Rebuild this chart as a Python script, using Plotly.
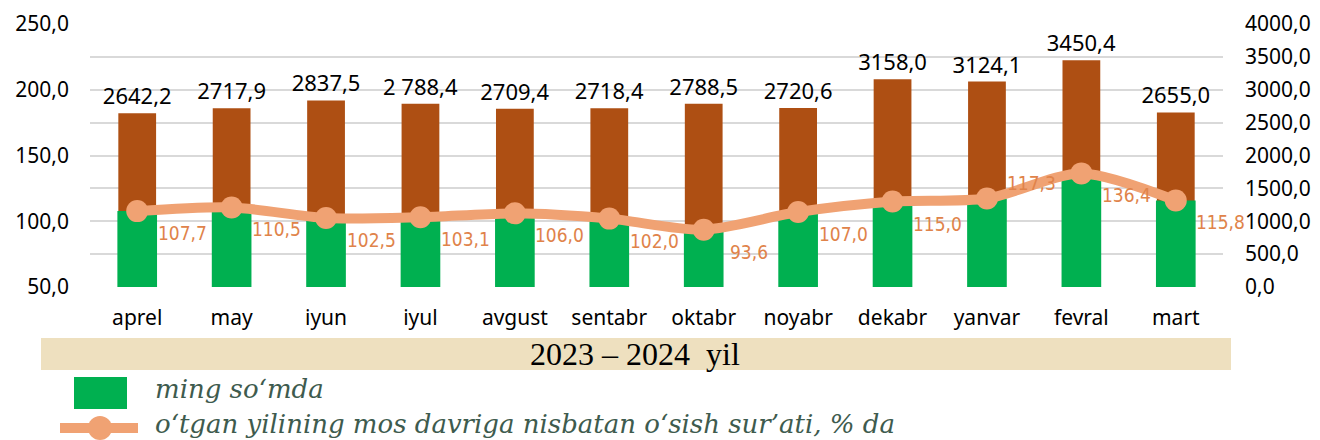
import plotly.graph_objects as go

# ---------------- data ----------------
months = ["aprel", "may", "iyun", "iyul", "avgust", "sentabr", "oktabr",
          "noyabr", "dekabr", "yanvar", "fevral", "mart"]
amount = [2642.2, 2717.9, 2837.5, 2788.4, 2709.4, 2718.4, 2788.5,
          2720.6, 3158.0, 3124.1, 3450.4, 2655.0]
amount_labels = ["2642,2", "2717,9", "2837,5", "2 788,4", "2709,4", "2718,4",
                 "2788,5", "2720,6", "3158,0", "3124,1", "3450,4", "2655,0"]
growth = [107.7, 110.5, 102.5, 103.1, 106.0, 102.0, 93.6,
          107.0, 115.0, 117.3, 136.4, 115.8]
growth_labels = ["107,7", "110,5", "102,5", "103,1", "106,0", "102,0", "93,6",
                 "107,0", "115,0", "117,3", "136,4", "115,8"]
label_side = ["below"] * 9 + ["above"] + ["below"] * 2

left_ticks = [50, 100, 150, 200, 250]
right_ticks = [0, 500, 1000, 1500, 2000, 2500, 3000, 3500, 4000]

period_text = "2023 – 2024  yil"
legend_bar = "ming so‘mda"
legend_line = "o‘tgan yilining mos davriga nisbatan o‘sish sur’ati, % da"

# ---------------- style ----------------
OFF = 8                      # default page body margin
W, H = 1320 - OFF, 440 - OFF
# plot area in page pixels: x 90..1223, y 24..287
PL, PR, PT, PB = 90, 1223, 24, 287
PW, PH = PR - PL, PB - PT
ML, MT = PL - OFF, PT - OFF
MR, MB = W - ML - PW, H - MT - PH

BROWN = "#AE4F13"
GREEN = "#00B050"
ORANGE = "#F0A273"
ORANGE_TXT = "#E0834A"
LEG_TXT = "#3E5B4E"
BAND = "#EEE0BF"
FONT = "Noto Sans"


def px(x):
    return (x - PL) / PW


def py(y):
    return (PB - y) / PH


fig = go.Figure()

# brown columns (right axis, drawn underneath)
fig.add_trace(go.Bar(
    x=months, y=amount, yaxis="y", width=0.40,
    marker=dict(color=BROWN, line=dict(width=0)),
    text=amount_labels, textposition="outside", cliponaxis=False,
    constraintext="none",
    textfont=dict(family=FONT, size=22, color="#000000"),
    hoverinfo="skip", showlegend=False,
))

# green columns (left axis)
fig.add_trace(go.Bar(
    x=months, y=growth, yaxis="y2", width=0.42,
    marker=dict(color=GREEN, line=dict(width=0)),
    hoverinfo="skip", showlegend=False,
))

# growth line
fig.add_trace(go.Scatter(
    x=months, y=growth, yaxis="y2", mode="lines+markers",
    line=dict(color=ORANGE, width=10, shape="spline", smoothing=0.8),
    marker=dict(color=ORANGE, size=22),
    hoverinfo="skip", showlegend=False, cliponaxis=False,
))

annotations = []
for m, v, t, s in zip(months, growth, growth_labels, label_side):
    annotations.append(dict(
        x=m, y=v, xref="x", yref="y2", text=t, showarrow=False,
        xshift=45, yshift=(16 if s == "above" else -22),
        font=dict(family="DejaVu Sans Condensed", size=19, color=ORANGE_TXT),
    ))

# period band text
annotations.append(dict(
    x=px(635), y=py(354), xref="paper", yref="paper", text=period_text,
    showarrow=False, xanchor="center", yanchor="middle",
    font=dict(family="Liberation Serif", size=32, color="#000000"),
))
# legend texts
annotations.append(dict(
    x=px(153), y=py(389), xref="paper", yref="paper", text=legend_bar,
    showarrow=False, xanchor="left", yanchor="middle",
    font=dict(family="DejaVu Serif", size=26, color=LEG_TXT, style="italic"),
))
annotations.append(dict(
    x=px(153), y=py(424), xref="paper", yref="paper", text=legend_line,
    showarrow=False, xanchor="left", yanchor="middle",
    font=dict(family="DejaVu Serif", size=26, color=LEG_TXT, style="italic"),
))

shapes = [
    dict(type="rect", xref="paper", yref="paper", x0=px(41), x1=px(1231),
         y0=py(338), y1=py(370), fillcolor=BAND, line=dict(width=0), layer="below"),
    dict(type="rect", xref="paper", yref="paper", x0=px(74), x1=px(127),
         y0=py(377), y1=py(409), fillcolor=GREEN, line=dict(width=0)),
    dict(type="line", xref="paper", yref="paper", x0=px(60), x1=px(138),
         y0=py(428), y1=py(428), line=dict(color=ORANGE, width=10)),
    dict(type="circle", xref="paper", yref="paper", x0=px(88), x1=px(112),
         y0=py(416), y1=py(440), fillcolor=ORANGE, line=dict(width=0)),
]

fig.update_layout(
    width=W, height=H,
    margin=dict(l=ML, r=MR, t=MT, b=MB, autoexpand=False),
    paper_bgcolor="white", plot_bgcolor="white",
    barmode="overlay", separators=", ",
    font=dict(family=FONT, size=21, color="#000000"),
    xaxis=dict(range=[-0.5, len(months) - 0.5], showgrid=False, zeroline=False,
               showline=False, ticks="",
               tickfont=dict(family=FONT, size=21, color="#000000"),
               ticklabelstandoff=16),
    yaxis=dict(side="right", range=[0, 4000], tickvals=right_ticks,
               tickformat=".1f", showgrid=True, gridcolor="#D9D9D9", gridwidth=2,
               zeroline=False, showline=False, ticks="",
               tickfont=dict(family=FONT, size=21, color="#000000"),
               ticklabelstandoff=21),
    yaxis2=dict(side="left", overlaying="y", range=[50, 250], tickvals=left_ticks,
                tickformat=".1f", showgrid=False, zeroline=False, showline=False,
                ticks="", tickfont=dict(family=FONT, size=21, color="#000000"),
                ticklabelstandoff=20),
    shapes=shapes,
    annotations=annotations,
)

fig.write_html("out.html")
